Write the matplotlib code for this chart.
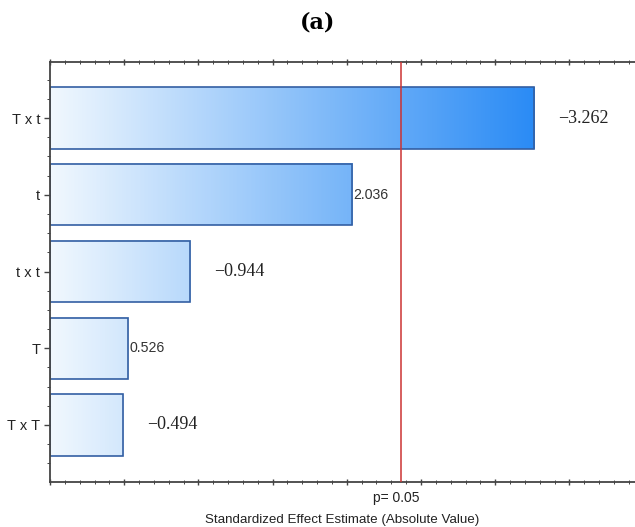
import numpy as np
import matplotlib
matplotlib.use('Agg')
import matplotlib.pyplot as plt
from matplotlib.colors import LinearSegmentedColormap
from matplotlib.ticker import MultipleLocator, NullFormatter

# Pareto chart of standardized effects
terms = ['T x T', 'T', 't x t', 't', 'T x t']
effects = [-0.494, 0.526, -0.944, 2.036, -3.262]
p_crit = 2.365  # two-sided t critical value, p = 0.05
p_label = 'p= 0.05'

fig = plt.figure(figsize=(6.35, 5.27), dpi=100)
ax = fig.add_axes([50 / 635, 45 / 527, 585 / 635, 420 / 527])

x_max = 3.942
y_lim = (-0.743, 4.73)

cmap = LinearSegmentedColormap.from_list('fade', ['#f1f8fe', '#2a8bf5'])
g_max = max(abs(e) for e in effects)
bar_h = 0.8

for i, eff in enumerate(effects):
    w = abs(eff)
    # gradient shared by all bars, clipped to each bar's length
    grad = np.linspace(0, w / g_max, 256).reshape(1, -1)
    ax.imshow(grad, cmap=cmap, vmin=0, vmax=1, aspect='auto',
              extent=(0, w, i - bar_h / 2, i + bar_h / 2), zorder=1,
              interpolation='bilinear')
    ax.barh(i, w, height=bar_h, facecolor='none', edgecolor='#335fa3',
            linewidth=1.2, zorder=2)
    if eff < 0:
        ax.text(w + 0.16, i, f'\u2212{abs(eff):.3f}', va='center', ha='left',
                fontsize=13, family='Liberation Serif', color='#222222')
    else:
        ax.text(w + 0.01, i, f'{eff:.3f}', va='center', ha='left',
                fontsize=10.2, family='Liberation Sans', color='#333333')

ax.set_xlim(0, x_max)
ax.set_ylim(*y_lim)

ax.axvline(p_crit, color='#cc3333', linewidth=1.1, zorder=3)

ax.set_yticks(range(len(terms)))
ax.set_yticklabels(terms, family='Liberation Sans', fontsize=10.5, color='#222222')
ax.yaxis.set_minor_locator(MultipleLocator(0.25))

ax.xaxis.set_major_locator(MultipleLocator(0.5))
ax.xaxis.set_minor_locator(MultipleLocator(0.1))
ax.xaxis.set_major_formatter(NullFormatter())
ax.tick_params(axis='x', which='both', top=True, bottom=True, direction='inout',
               color='#444444')
ax.tick_params(axis='x', which='major', length=5, width=1.0)
ax.tick_params(axis='x', which='minor', length=3, width=0.7)
ax.tick_params(axis='y', which='major', direction='out', length=4, width=1.0,
               color='#444444', pad=3)
ax.tick_params(axis='y', which='minor', direction='out', length=2, width=0.7,
               color='#444444')

for side in ['left', 'top', 'bottom']:
    ax.spines[side].set_color('#444444')
    ax.spines[side].set_linewidth(1.3)
ax.spines['right'].set_visible(False)

ax.text(p_crit - 0.03, -0.95, p_label, ha='center', va='center',
        fontsize=10, family='Liberation Sans', color='#222222', clip_on=False)
fig.text((50 + 635) / 2 / 635, 1 - 520 / 527,
         'Standardized Effect Estimate (Absolute Value)', ha='center', va='center',
         fontsize=9.6, family='Liberation Sans', color='#222222')
fig.text(318 / 635, 1 - 22 / 527, '(a)', ha='center', va='center', fontsize=16,
         fontweight='bold', family='DejaVu Serif')

fig.savefig('out.png', dpi=100)
